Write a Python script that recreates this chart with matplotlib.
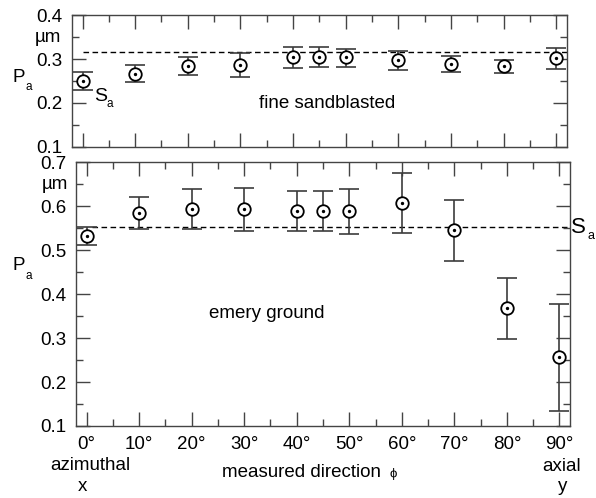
import numpy as np
import matplotlib
matplotlib.use("Agg")
import matplotlib.pyplot as plt
from matplotlib.ticker import MultipleLocator

# measured direction phi (degrees)
phi = [0, 10, 20, 30, 40, 45, 50, 60, 70, 80, 90]

# fine sandblasted: P_a, lower / upper error ends (um)
fine_pa = [0.250, 0.267, 0.285, 0.286, 0.305, 0.305, 0.305, 0.298, 0.289, 0.284, 0.302]
fine_lo = [0.230, 0.248, 0.264, 0.259, 0.280, 0.283, 0.283, 0.275, 0.271, 0.269, 0.278]
fine_hi = [0.270, 0.286, 0.305, 0.315, 0.327, 0.327, 0.324, 0.318, 0.306, 0.299, 0.325]
fine_sa = 0.316

# emery ground
emery_pa = [0.532, 0.584, 0.593, 0.593, 0.589, 0.589, 0.589, 0.607, 0.546, 0.368, 0.258]
emery_lo = [0.512, 0.548, 0.548, 0.543, 0.543, 0.544, 0.537, 0.538, 0.476, 0.299, 0.134]
emery_hi = [0.552, 0.620, 0.639, 0.642, 0.635, 0.634, 0.640, 0.675, 0.615, 0.437, 0.378]
emery_sa = 0.552

xticks = [0, 10, 20, 30, 40, 50, 60, 70, 80, 90]
xticklabels = [f"{t}°" for t in xticks]

plt.rcParams.update({
    "font.family": ["Liberation Sans", "DejaVu Sans"],
    "font.size": 13.5,
    "axes.linewidth": 1.0,
    "axes.edgecolor": "#444444",
})

FS = 13.5
ERR_C = "#3c3c3c"

fig = plt.figure(figsize=(5.96, 4.98), dpi=100)
ax1 = fig.add_axes([72 / 596, 1 - 146.7 / 498, 494.7 / 596, 131.4 / 498])
ax2 = fig.add_axes([76 / 596, 1 - 426 / 498, 494 / 596, 263.7 / 498])


def draw(ax, pa, lo, hi):
    pa = np.asarray(pa)
    yerr = [pa - np.asarray(lo), np.asarray(hi) - pa]
    ax.errorbar(phi, pa, yerr=yerr, fmt="none", ecolor=ERR_C,
                elinewidth=1.2, capsize=7.2, capthick=1.2, zorder=2)
    ax.plot(phi, pa, "o", ms=9, mfc="white", mec="black", mew=1.3, zorder=3)
    ax.plot(phi, pa, "o", ms=1.4, color="black", zorder=4)


def style(ax, ymin, ymax):
    ax.set_xlim(-2, 92)
    ax.set_ylim(ymin, ymax)
    ax.xaxis.set_major_locator(MultipleLocator(10))
    ax.xaxis.set_minor_locator(MultipleLocator(5))
    ax.yaxis.set_major_locator(MultipleLocator(0.1))
    ax.yaxis.set_minor_locator(MultipleLocator(0.05))
    ax.tick_params(which="both", direction="in", top=True, right=True,
                   color="#444444", width=1.0)
    ax.tick_params(which="major", length=10, labelsize=FS, pad=7)
    ax.tick_params(which="minor", length=5)
    ax.set_yticks(np.round(np.arange(ymin, ymax + 0.001, 0.1), 2))
    ax.set_yticklabels([f"{v:.1f}" for v in np.arange(ymin, ymax + 0.001, 0.1)])


# top panel
draw(ax1, fine_pa, fine_lo, fine_hi)
ax1.plot([0, 92], [fine_sa, fine_sa], color="black", lw=1.0, ls=(0, (4, 2.5)), zorder=1)
style(ax1, 0.1, 0.4)
ax1.tick_params(axis="x", labelbottom=False)
ax1.text(-0.022, 0.35, "µm", transform=ax1.get_yaxis_transform(),
         ha="right", va="center", fontsize=FS)
ax1.text(2.2, 0.214, "S", fontsize=14, ha="left", va="center")
ax1.text(4.6, 0.198, "a", fontsize=8.5, ha="left", va="center")
ax1.text(46.5, 0.198, "fine sandblasted", fontsize=FS, ha="center", va="center")

# bottom panel
draw(ax2, emery_pa, emery_lo, emery_hi)
ax2.plot([1, 92], [emery_sa, emery_sa], color="black", lw=1.0, ls=(0, (4, 2.5)), zorder=1)
style(ax2, 0.1, 0.7)
ax2.set_xticks(xticks)
ax2.set_xticklabels(xticklabels)
ax2.text(-0.015, 0.65, "µm", transform=ax2.get_yaxis_transform(),
         ha="right", va="center", fontsize=FS)
ax2.text(34.3, 0.356, "emery ground", fontsize=FS, ha="center", va="center")
ax2.text(1.002, emery_sa, "S", transform=ax2.get_yaxis_transform(),
         fontsize=16, ha="left", va="center")
ax2.text(1.036, emery_sa - 0.02, "a", transform=ax2.get_yaxis_transform(),
         fontsize=9, ha="left", va="center")

# y axis labels P_a
for yc in (77, 266):
    fig.text(19 / 596, 1 - yc / 498, "P", fontsize=FS, ha="center", va="center")
    fig.text(29 / 596, 1 - (yc + 10) / 498, "a", fontsize=8.5, ha="center", va="center")

# x axis annotations
fig.text(90 / 596, 1 - 465 / 498, "azimuthal", fontsize=FS, ha="center", va="center")
fig.text(82 / 596, 1 - 486 / 498, "x", fontsize=FS, ha="center", va="center")
fig.text(562 / 596, 1 - 466 / 498, "axial", fontsize=FS, ha="center", va="center")
fig.text(563 / 596, 1 - 486 / 498, "y", fontsize=FS, ha="center", va="center")
fig.text(304 / 596, 1 - 472 / 498, "measured direction ", fontsize=FS, ha="center", va="center")
fig.text(393 / 596, 1 - 474 / 498, "ϕ", fontsize=9.5, ha="center", va="center")

fig.savefig("out.png", dpi=100, facecolor="white")
